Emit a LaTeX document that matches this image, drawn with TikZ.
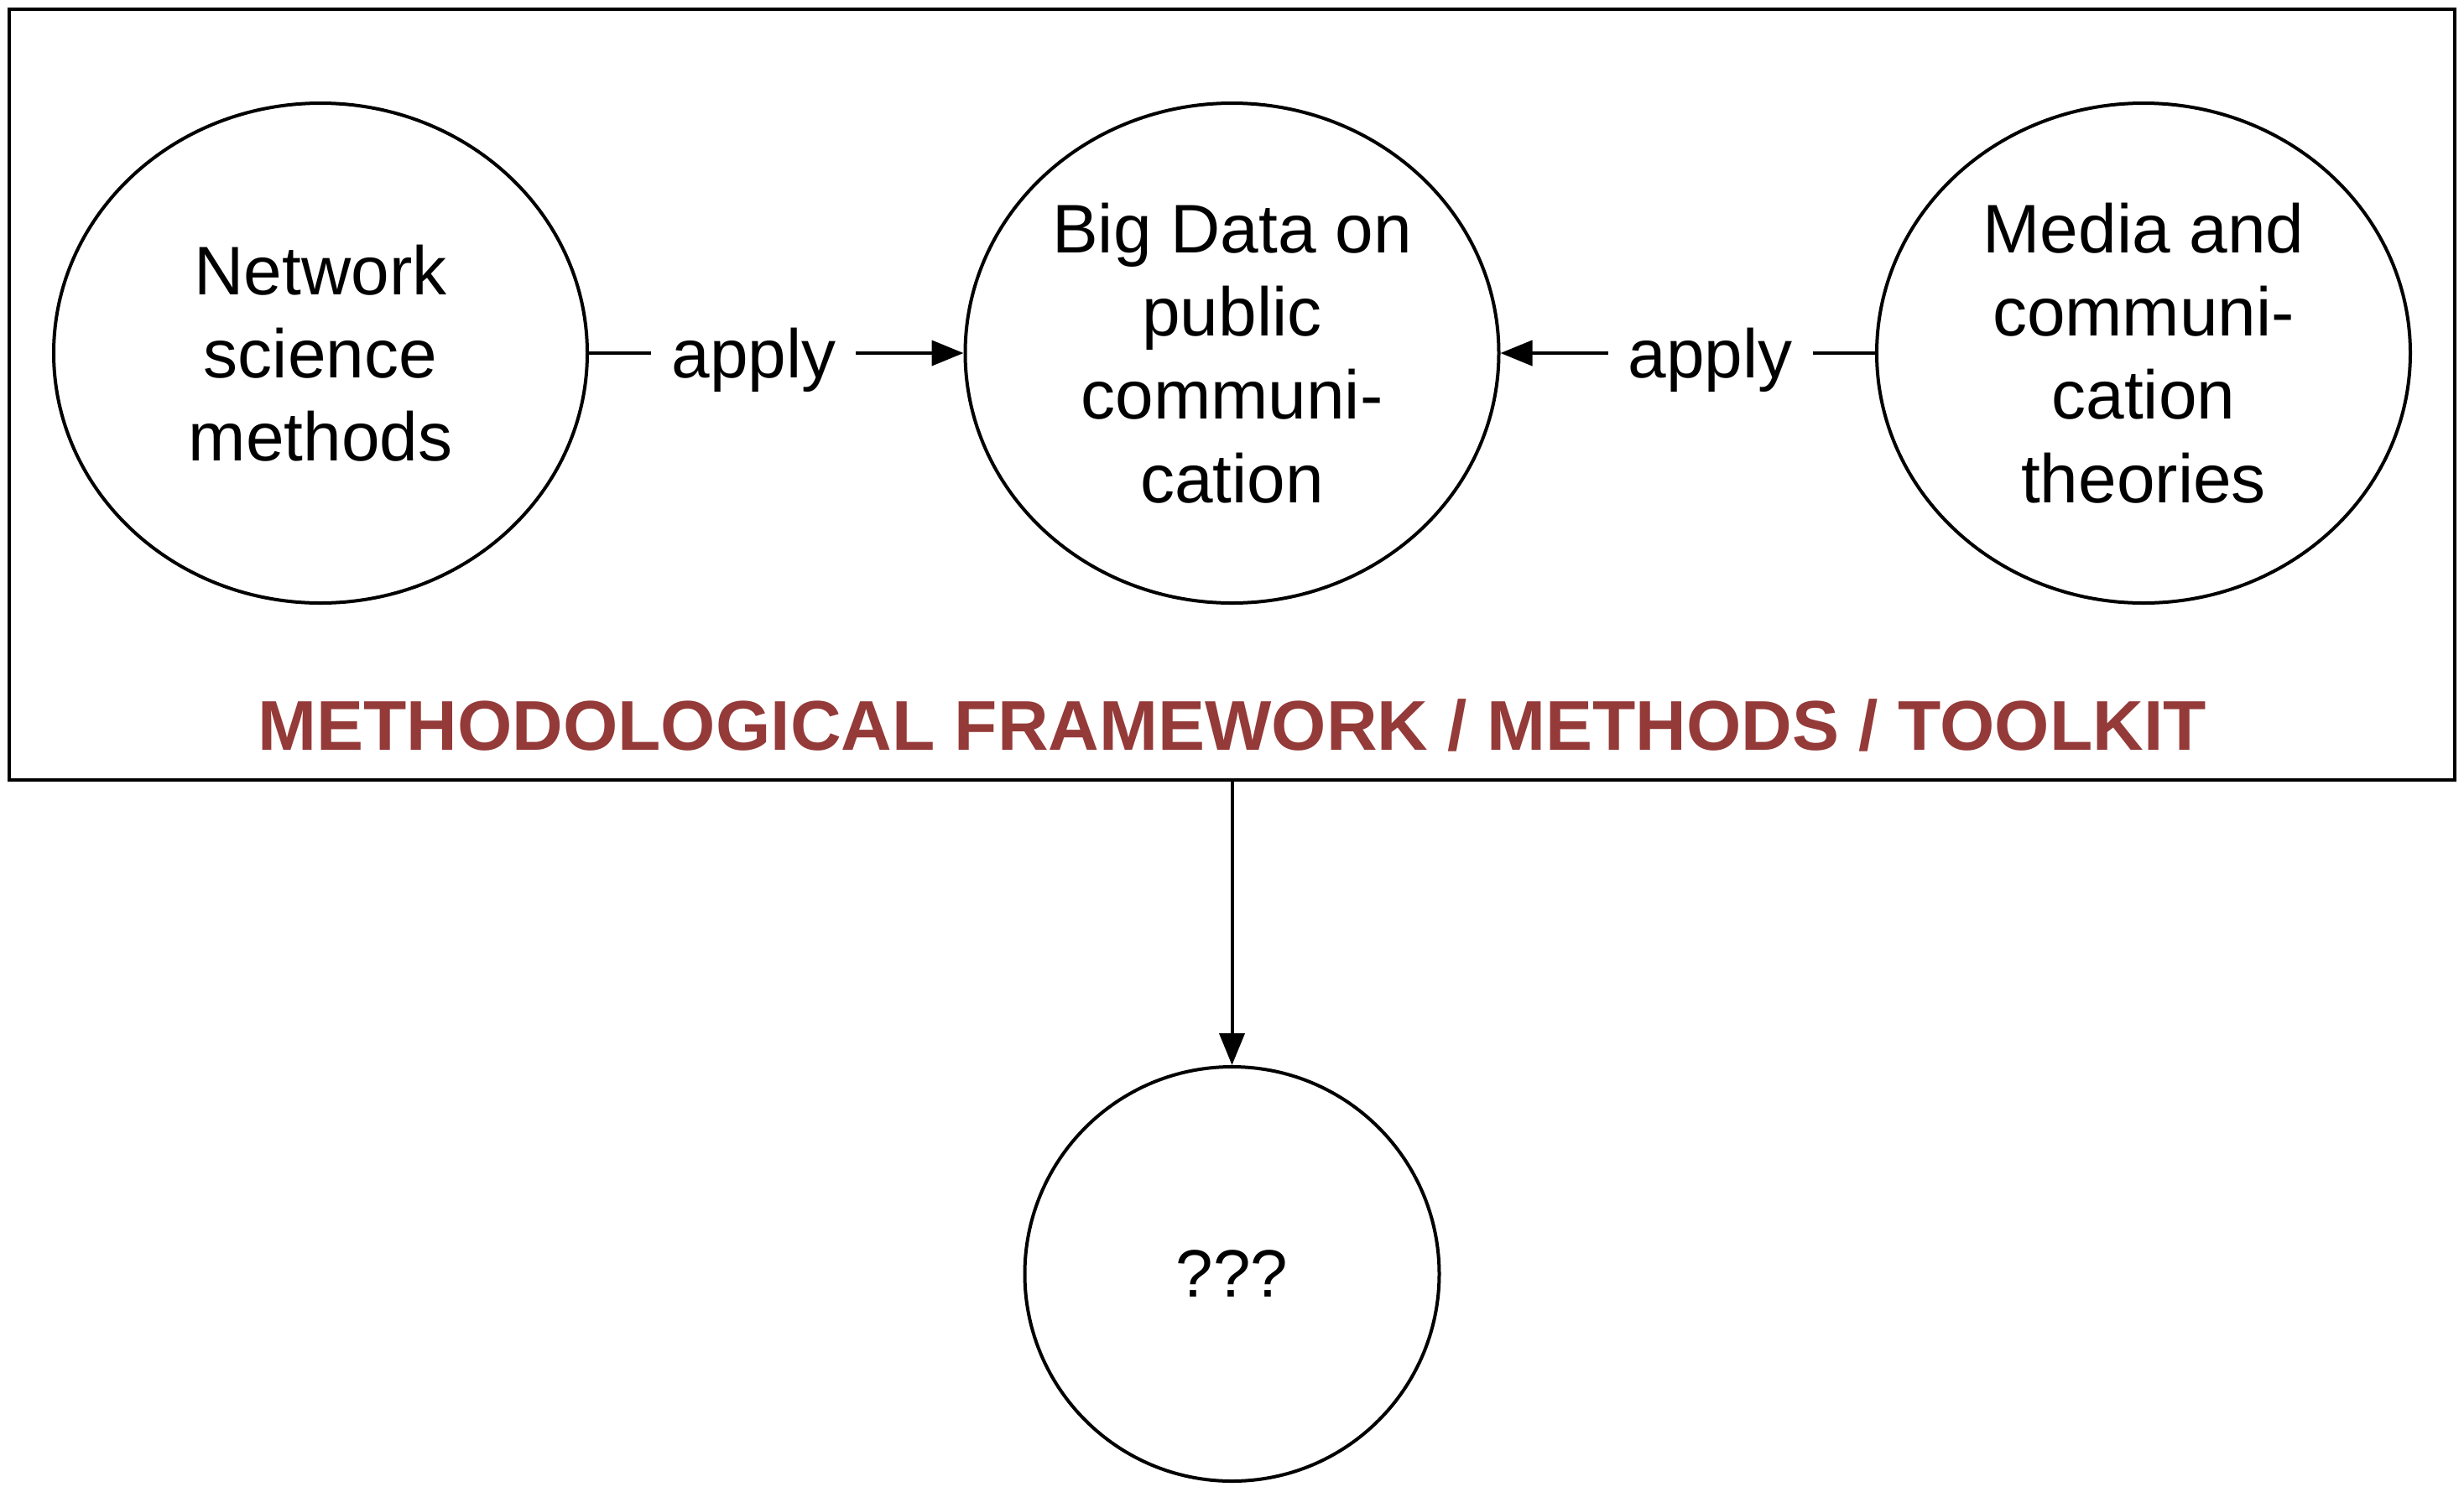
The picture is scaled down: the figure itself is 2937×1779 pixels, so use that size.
\documentclass[tikz,border=0pt]{standalone}
\usepackage{fontspec}
\setmainfont{Liberation Sans}
\usetikzlibrary{arrows.meta,shapes.geometric}
\definecolor{titlered}{RGB}{148,58,56}
\begin{document}
\begin{tikzpicture}[x=0.25pt,y=-0.25pt,
  lw/.style={line width=1pt},
  txt/.style={font=\fontsize{20.5}{24.8}\selectfont, align=center},
  oval/.style={draw, lw, ellipse, minimum width=159pt, minimum height=149pt, inner sep=0pt, txt},
  qcircle/.style={draw, lw, circle, minimum size=123.5pt, inner sep=0pt, font=\fontsize{20}{24.8}\selectfont},
  arr/.style={lw, -{Triangle[length=9.5pt,width=7.5pt]}},
  lbl/.style={fill=white, inner xsep=6pt, inner ysep=1pt, text depth=0pt, txt}]
\useasboundingbox (0,0) rectangle (2937,1779);
\node (frame) [draw, lw, minimum width=728.75pt, minimum height=229.75pt, inner sep=0pt] at (1468.5,470.5) {};
\node (nsm) [oval] at (382,421) {Network\\science\\methods};
\node (bd) [oval] at (1468.5,421) {Big Data on\\public\\communi-\\cation};
\node (mct) [oval] at (2555,421) {Media and\\communi-\\cation\\theories};
\node (q) [qcircle] at (1468.5,1519) {???};
\node (title) [font=\fontsize{21}{25}\selectfont\bfseries, text=titlered] at (1468.5,865) {METHODOLOGICAL FRAMEWORK / METHODS / TOOLKIT};
\draw[arr] (nsm) -- node[lbl, pos=0.44] {apply} (bd);
\draw[arr] (mct) -- node[lbl, pos=0.44] {apply} (bd);
\draw[arr] (frame.south) -- (q);
\end{tikzpicture}
\end{document}
